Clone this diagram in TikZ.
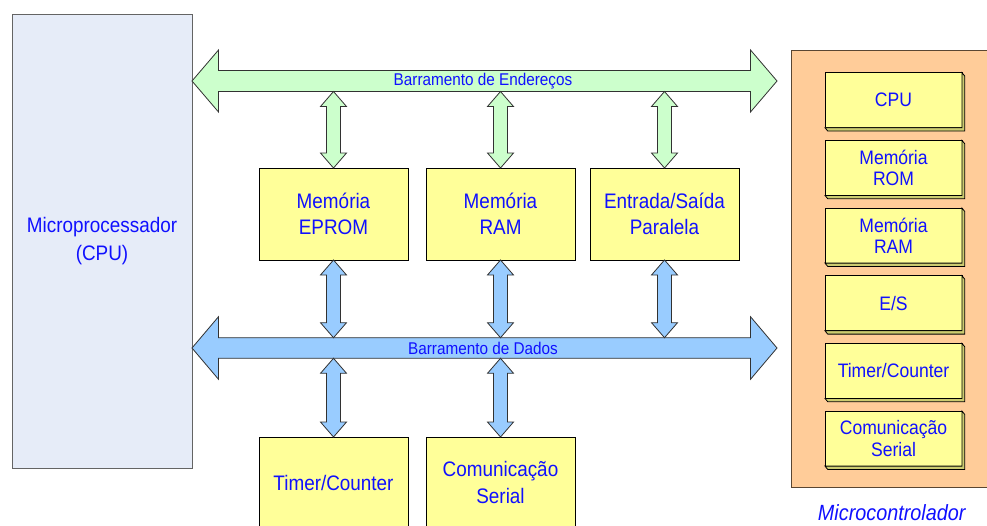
\documentclass[tikz,border=0pt]{standalone}
\usepackage{fontspec}
\setmainfont[FakeStretch=0.9]{Liberation Sans}
\usetikzlibrary{calc}
\definecolor{txt}{RGB}{16,16,255}
\definecolor{cpufill}{RGB}{230,236,248}
\definecolor{agreen}{RGB}{204,255,204}
\definecolor{dblue}{RGB}{153,204,255}
\definecolor{yel}{RGB}{255,255,153}
\definecolor{yelside}{RGB}{204,204,112}
\definecolor{orng}{RGB}{255,204,153}
\definecolor{arrline}{RGB}{50,50,50}
\newcommand\vdarrow[3]{%
  \draw[busline, fill=#3] let \p1=#1, \p2=#2 in
   (\x1,\y1) -- ({\x1+13pt},{\y1-15pt}) -- ({\x1+7pt},{\y1-15pt}) -- ({\x1+7pt},{\y2+15pt})
   -- ({\x1+13pt},{\y2+15pt}) -- (\x1,\y2) -- ({\x1-13pt},{\y2+15pt}) -- ({\x1-7pt},{\y2+15pt})
   -- ({\x1-7pt},{\y1-15pt}) -- ({\x1-13pt},{\y1-15pt}) -- cycle;}
\newcommand\rbx[3]{%
  \node[rbox] (#1) at (825,#2) {#3};
  \draw[line width=0.8pt, fill=yelside] (#1.north east) -- ++(2.7,3.3)
   -- ($(#1.south east)+(2.7,3.3)$) -- ($(#1.south west)+(2.7,3.3)$)
   -- (#1.south west) -- (#1.south east) -- cycle;}
\begin{document}
\begin{tikzpicture}[x=1pt,y=-1pt,
  every node/.style={text=txt, align=center, inner sep=0pt, outer sep=0pt},
  ybox/.style={draw=black, line width=0.8pt, fill=yel, minimum width=149pt, minimum height=92pt,
    anchor=north west, font=\fontsize{21}{26.5}\selectfont},
  rbox/.style={draw=black, line width=0.8pt, fill=yel, minimum width=137pt, minimum height=55pt,
    anchor=north west, font=\fontsize{19.5}{21.5}\selectfont},
  busline/.style={draw=arrline, line width=0.8pt},
  buslabel/.style={font=\fontsize{17}{20}\selectfont}]
\useasboundingbox (0,0) rectangle (987,525);
\clip (0,0) rectangle (987,525);
\fill[white] (0,0) rectangle (987,525);

% Microprocessor
\node[draw={rgb,255:red,100;green,100;blue,100}, line width=1pt, fill=cpufill, minimum width=180pt,
  minimum height=454pt, anchor=north west, font=\fontsize{21}{28}\selectfont] (mpu) at (12,14)
  {Microprocessador\\(CPU)};

% Microcontroller
\node[draw={rgb,255:red,90;green,70;blue,50}, line width=0.8pt, fill=orng, anchor=north west,
  minimum width=220pt, minimum height=436.6pt] (mcu) at (791.7,50.7) {};
\node[font=\itshape\fontsize{22}{25}\selectfont] (mcul) at (891.7,513) {Microcontrolador};
\rbx{rcpu}{72.7}{CPU}
\rbx{rrom}{140.4}{Memória\\ROM}
\rbx{rram}{208.1}{Memória\\RAM}
\rbx{res}{275.8}{E/S}
\rbx{rtim}{343.4}{Timer/Counter}
\rbx{rcom}{411.1}{Comunicação\\Serial}

% Boxes
\node[ybox] (eprom) at (259,168) {Memória\\EPROM};
\node[ybox] (ram) at (426,168) {Memória\\RAM};
\node[ybox] (es) at (590,168) {Entrada/Saída\\Paralela};
\node[ybox, minimum height=91pt] (tim) at (259,437) {Timer/Counter};
\node[ybox, minimum height=91pt] (com) at (426,437) {Comunicação\\Serial};

% Address bus
\draw[busline, fill=agreen] (192,81) -- (218.5,50) -- (218.5,70.5) -- (750.5,70.5) -- (750.5,50)
  -- (777,81) -- (750.5,112) -- (750.5,91.5) -- (218.5,91.5) -- (218.5,112) -- cycle;
\node[buslabel] (abus) at (483,81) {Barramento de Endereços};
\coordinate (abusS) at (484.5,91.5);

% Data bus
\draw[busline, fill=dblue] (192,348) -- (218.5,316.7) -- (218.5,337.7) -- (750.5,337.7) -- (750.5,316.7)
  -- (777,348) -- (750.5,379.3) -- (750.5,358.3) -- (218.5,358.3) -- (218.5,379.3) -- cycle;
\node[buslabel] (dbus) at (483,348) {Barramento de Dados};
\coordinate (dbusN) at (484.5,337.7);
\coordinate (dbusS) at (484.5,358.3);

% Vertical connectors
\vdarrow{(eprom.north |- abusS)}{(eprom.north)}{agreen}
\vdarrow{(ram.north |- abusS)}{(ram.north)}{agreen}
\vdarrow{(es.north |- abusS)}{(es.north)}{agreen}
\vdarrow{(eprom.south)}{(eprom.south |- dbusN)}{dblue}
\vdarrow{(ram.south)}{(ram.south |- dbusN)}{dblue}
\vdarrow{(es.south)}{(es.south |- dbusN)}{dblue}
\vdarrow{(tim.north |- dbusS)}{(tim.north)}{dblue}
\vdarrow{(com.north |- dbusS)}{(com.north)}{dblue}
\end{tikzpicture}
\end{document}
